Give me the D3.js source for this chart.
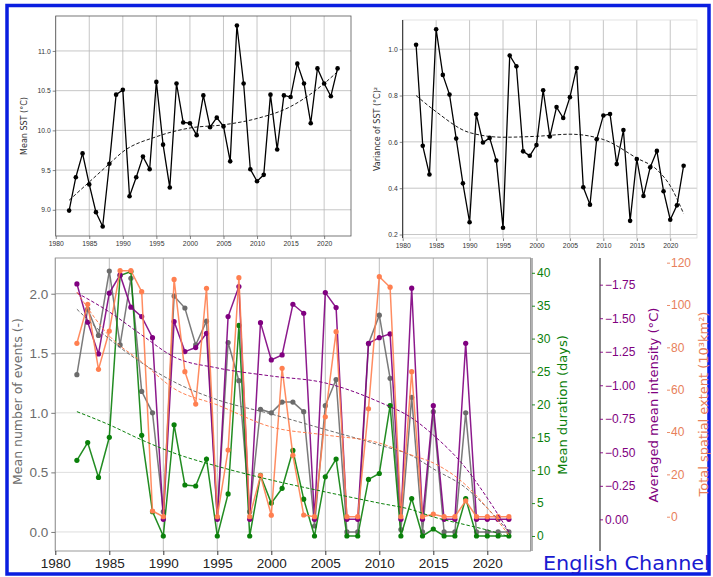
<!DOCTYPE html>
<html>
<head>
<meta charset="utf-8">
<script src="https://cdn.jsdelivr.net/npm/d3@7"></script>
<style>
  body { margin: 0; background: #fff; }
  svg { display: block; font-family: "DejaVu Sans", sans-serif; }
</style>
</head>
<body>
<main></main>
<script>
const years = d3.range(1982, 2023);

// top left: mean SST
const meanSst = [8.99, 9.41, 9.71, 9.32, 8.97, 8.79, 9.58, 10.45, 10.51, 9.17, 9.41, 9.67, 9.51, 10.61, 9.82, 9.28, 10.59, 10.10, 10.09, 9.94, 10.44, 10.04, 10.16, 10.05, 9.61, 11.32, 10.59, 9.51, 9.36, 9.44, 10.45, 9.76, 10.44, 10.42, 10.84, 10.59, 10.09, 10.78, 10.59, 10.43, 10.78];
const meanSstTrendYears = [1982, 1985, 1988, 1990, 1995, 2000, 2005, 2010, 2015, 2020, 2022];
const meanSstTrend = [9.12, 9.35, 9.58, 9.73, 9.92, 10.03, 10.07, 10.15, 10.30, 10.59, 10.74];

// top right: variance of SST
const varSst = [1.019, 0.583, 0.459, 1.086, 0.889, 0.804, 0.614, 0.421, 0.253, 0.719, 0.597, 0.617, 0.519, 0.229, 0.973, 0.926, 0.559, 0.540, 0.586, 0.823, 0.623, 0.750, 0.703, 0.793, 0.919, 0.404, 0.329, 0.611, 0.714, 0.720, 0.504, 0.651, 0.259, 0.526, 0.366, 0.490, 0.561, 0.387, 0.264, 0.326, 0.497];
const varSstTrendYears = [1982, 1985, 1990, 1995, 2000, 2005, 2010, 2015, 2018, 2020, 2022];
const varSstTrend = [0.80, 0.73, 0.64, 0.62, 0.624, 0.633, 0.61, 0.53, 0.48, 0.41, 0.29];

// bottom: event metrics
const nEvents = [1.32, 1.87, 1.65, 2.19, 1.57, 2.13, 1.18, 1.00, 0.17, 1.98, 1.88, 1.57, 1.77, 0.12, 1.59, 1.27, 0.17, 1.03, 1.00, 1.09, 1.09, 1.01, 0.05, 1.06, 1.28, 0.0, 0.0, 1.58, 1.82, 1.29, 0.02, 1.13, 0.0, 1.01, 0.0, 0.0, 1.00, 0.0, 0.0, 0.0, 0.0];
const duration = [11.5, 14.2, 8.9, 15.0, 39.6, 40.2, 15.3, 3.7, 0.0, 16.9, 7.75, 7.6, 11.7, 0.0, 6.4, 32.0, 0.0, 9.2, 5.0, 7.25, 13.0, 5.6, 0.0, 9.0, 11.7, 0.0, 0.0, 8.6, 9.5, 19.8, 0.0, 5.7, 0.0, 1.06, 0.0, 0.0, 5.7, 0.0, 0.0, 0.0, 0.0];
const intensity = [-1.756, -1.47, -1.234, -1.687, -1.823, -1.582, -1.512, -1.355, 0.0, -1.475, -1.251, -1.281, -1.388, 0.0, -1.512, -1.736, 0.0, -1.467, -1.189, -1.226, -1.604, -1.537, 0.0, -1.691, -1.579, 0.0, 0.0, -1.313, -1.355, -1.383, 0.0, -1.724, 0.0, -0.848, 0.0, 0.0, -1.313, 0.0, 0.0, 0.0, 0.0];
const extent = [81.9, 100.3, 69.6, 87.7, 116.2, 116.2, 106.3, 2.7, 0.0, 112.1, 68.5, 53.2, 107.9, 0.0, 31.5, 112.9, 0.0, 19.4, 0.7, 70.1, 29.0, 0.8, 0.0, 47.2, 87.4, 0.0, 0.0, 51.0, 113.4, 108.4, 0.0, 68.5, 0.0, 1.2, 0.0, 0.0, 7.5, 0.0, 0.0, 0.0, 0.0];

const trendYears = [1982, 1985, 1988, 1991, 1995, 2000, 2005, 2010, 2013, 2015, 2018, 2020, 2022];
const nEventsTrend = [1.87, 1.62, 1.42, 1.26, 1.11, 0.99, 0.86, 0.73, 0.64, 0.53, 0.37, 0.20, 0.0];
const durationTrend = [18.9, 16.9, 14.6, 12.6, 10.6, 8.5, 6.7, 5.0, 4.0, 2.9, 1.7, 0.9, -0.1];
const intensityTrend = [-1.689, -1.547, -1.375, -1.211, -1.129, -1.069, -1.017, -0.875, -0.756, -0.629, -0.383, -0.159, 0.094];
const extentTrend = [106.1, 85.4, 73.1, 60.5, 52.8, 42.4, 38.6, 34.8, 29.1, 25.4, 15.0, 4.1, -8.7];

const yearTicks = [1980, 1985, 1990, 1995, 2000, 2005, 2010, 2015, 2020];

const width = 713;
const height = 577;
const svg = d3.select("main").append("svg").attr("width", width).attr("height", height);

// outer frame
svg.append("rect")
  .attr("x", 7).attr("y", 5.5).attr("width", 702).attr("height", 568.5)
  .attr("fill", "none").attr("stroke", "#0a1ee0").attr("stroke-width", 3.5);

const gridColor = "#b8b8b8";

function drawSeries(g, xs, ys, xScale, yScale, color, r, lw, opacity) {
  const pts = xs.map((x, i) => [x, ys[i]]);
  g.append("path")
    .datum(pts)
    .attr("fill", "none")
    .attr("stroke", color)
    .attr("stroke-width", lw)
    .attr("stroke-opacity", opacity)
    .attr("d", d3.line().x((d) => xScale(d[0])).y((d) => yScale(d[1])));
  g.selectAll(null)
    .data(pts)
    .enter()
    .append("circle")
    .attr("cx", (d) => xScale(d[0]))
    .attr("cy", (d) => yScale(d[1]))
    .attr("r", r)
    .attr("fill", color);
}

function drawTrend(g, xs, ys, xScale, yScale, color, lw) {
  const pts = xs.map((x, i) => [x, ys[i]]);
  g.append("path")
    .datum(pts)
    .attr("fill", "none")
    .attr("stroke", color)
    .attr("stroke-width", lw)
    .attr("stroke-dasharray", "3.5,2")
    .attr("d", d3.line().curve(d3.curveMonotoneX).x((d) => xScale(d[0])).y((d) => yScale(d[1])));
}

// squeeze a text so that it is `len` px long along its own direction
function fitText(sel, x, y, rot, len) {
  const w = sel.node().getComputedTextLength();
  sel.attr("transform", `translate(${x}, ${y}) rotate(${rot}) scale(${len / w}, 1)`);
}

// ---------- top panels ----------
function topPanel(opts) {
  const { left, right, top, bottom, yDomain, yTicks, yFmt, data, trendX, trendY, label, labelX } = opts;
  const x = d3.scaleLinear().domain([1980, 2024]).range([left, right]);
  const y = d3.scaleLinear().domain(yDomain).range([bottom, top]);
  const g = svg.append("g");

  g.append("g").selectAll("line").data(yearTicks).enter().append("line")
    .attr("x1", (d) => x(d)).attr("x2", (d) => x(d)).attr("y1", top).attr("y2", bottom)
    .attr("stroke", gridColor).attr("stroke-width", 0.8);
  g.append("g").selectAll("line").data(yTicks).enter().append("line")
    .attr("x1", left).attr("x2", right).attr("y1", (d) => y(d)).attr("y2", (d) => y(d))
    .attr("stroke", gridColor).attr("stroke-width", 0.8);

  const xAxis = g.append("g").attr("transform", `translate(0, ${bottom})`)
    .call(d3.axisBottom(x).tickValues(yearTicks).tickFormat(d3.format("d")).tickSize(3).tickPadding(2));
  const yAxis = g.append("g").attr("transform", `translate(${left}, 0)`)
    .call(d3.axisLeft(y).tickValues(yTicks).tickFormat(yFmt).tickSize(3).tickPadding(2));
  [xAxis, yAxis].forEach((a) => {
    a.select(".domain").remove();
    a.selectAll("text").style("font-size", "6.8px").attr("fill", "#333");
    a.selectAll("line").attr("stroke", "#333").attr("stroke-width", 0.6);
  });

  g.append("rect").attr("x", left).attr("y", top).attr("width", right - left).attr("height", bottom - top)
    .attr("fill", "none").attr("stroke", opts.frame).attr("stroke-width", 0.8);
  if (opts.leftSpine) {
    g.append("line").attr("x1", left).attr("x2", left).attr("y1", top).attr("y2", bottom)
      .attr("stroke", "#222").attr("stroke-width", 1);
  }

  drawSeries(g, years, data, x, y, "#000", 2.3, 1.3, 1);
  drawTrend(g, trendX, trendY, x, y, "#000", 0.9);

  g.append("text")
    .attr("transform", `translate(${labelX}, ${(top + bottom) / 2}) rotate(-90)`)
    .attr("text-anchor", "middle")
    .style("font-size", "8px")
    .attr("fill", "#333")
    .text(label);
}

topPanel({
  left: 55.7, right: 351, top: 16, bottom: 236,
  yDomain: [8.67, 11.44], yTicks: [9.0, 9.5, 10.0, 10.5, 11.0], yFmt: d3.format(".1f"),
  data: meanSst, trendX: meanSstTrendYears, trendY: meanSstTrend,
  label: "Mean SST (°C)", labelX: 27, frame: "#555"
});

topPanel({
  left: 402.7, right: 697, top: 20, bottom: 238,
  yDomain: [0.185, 1.126], yTicks: [0.2, 0.4, 0.6, 0.8, 1.0], yFmt: d3.format(".1f"),
  data: varSst, trendX: varSstTrendYears, trendY: varSstTrend,
  label: "Variance of SST (°C)²", labelX: 380, frame: "#dcdcdc", leftSpine: true
});

// ---------- bottom panel ----------
const bl = 55.3, br = 530.5, bt = 258, bb = 551;
const xB = d3.scaleLinear().domain([1980, 2024]).range([bl, br]);
const yEvents = d3.scaleLinear().domain([-0.16, 2.30]).range([bb, bt]);
const yDur = d3.scaleLinear().domain([-2.28, 42.25]).range([bb, bt]);
const yInt = d3.scaleLinear().domain([0.236, -1.949]).range([bb, bt]);
const yExt = d3.scaleLinear().domain([-16.2, 122.2]).range([bb, bt]);

const cGray = "#6b6b6b", cGreen = "#0a800a", cPurple = "#800080", cOrange = "#ff7f50";
const eventTicks = [0.0, 0.5, 1.0, 1.5, 2.0];
const durTicks = [0, 5, 10, 15, 20, 25, 30, 35, 40];
const intTicks = [0, -0.25, -0.5, -0.75, -1.0, -1.25, -1.5, -1.75];
const extTicks = [0, 20, 40, 60, 80, 100, 120];

const gb = svg.append("g");
gb.append("g").selectAll("line").data(yearTicks).enter().append("line")
  .attr("x1", (d) => xB(d)).attr("x2", (d) => xB(d)).attr("y1", bt).attr("y2", bb)
  .attr("stroke", "#bdbdbd").attr("stroke-width", 1);
gb.append("g").selectAll("line").data(eventTicks).enter().append("line")
  .attr("x1", bl).attr("x2", br).attr("y1", (d) => yEvents(d)).attr("y2", (d) => yEvents(d))
  .attr("stroke", (d) => (d >= 1.5 ? "#a8a8a8" : "#dedede")).attr("stroke-width", 1);
gb.append("rect").attr("x", bl).attr("y", bt).attr("width", br - bl).attr("height", bb - bt)
  .attr("fill", "none").attr("stroke", "#999").attr("stroke-width", 1);

function styleAxis(a, color, size) {
  a.select(".domain").remove();
  a.selectAll("text").style("font-size", size).attr("fill", color);
  a.selectAll("line").attr("stroke", color).attr("stroke-width", 0.9);
}

styleAxis(gb.append("g").attr("transform", `translate(0, ${bb})`)
  .call(d3.axisBottom(xB).tickValues(yearTicks).tickFormat(d3.format("d")).tickSize(4).tickPadding(3)), "#222", "13.5px");
styleAxis(gb.append("g").attr("transform", `translate(${bl}, 0)`)
  .call(d3.axisLeft(yEvents).tickValues(eventTicks).tickFormat(d3.format(".1f")).tickSize(4).tickPadding(3)), "#6b6b6b", "13.5px");

// green axis
gb.append("line").attr("x1", 532).attr("x2", 532).attr("y1", bt).attr("y2", bb)
  .attr("stroke", "#999").attr("stroke-width", 1.5);
styleAxis(gb.append("g").attr("transform", "translate(532, 0)")
  .call(d3.axisRight(yDur).tickValues(durTicks).tickFormat(d3.format("d")).tickSize(3).tickPadding(2)), cGreen, "12px");
// purple axis
gb.append("line").attr("x1", 600).attr("x2", 600).attr("y1", bt).attr("y2", bb)
  .attr("stroke", "#111").attr("stroke-width", 1);
styleAxis(gb.append("g").attr("transform", "translate(600, 0)")
  .call(d3.axisRight(yInt).tickValues(intTicks).tickFormat(d3.format(".2f")).tickSize(3).tickPadding(2)), cPurple, "12px");
// orange axis (no spine)
styleAxis(gb.append("g").attr("transform", "translate(667, 0)")
  .call(d3.axisRight(yExt).tickValues(extTicks).tickFormat(d3.format("d")).tickSize(3).tickPadding(1)), "#e8805a", "12px");

// series
drawSeries(gb, years, nEvents, xB, yEvents, cGray, 2.6, 1.5, 0.9);
drawSeries(gb, years, duration, xB, yDur, cGreen, 2.6, 1.5, 0.9);
drawSeries(gb, years, intensity, xB, yInt, cPurple, 2.6, 1.5, 0.9);
drawSeries(gb, years, extent, xB, yExt, cOrange, 2.6, 1.5, 0.9);

drawTrend(gb, trendYears, nEventsTrend, xB, yEvents, cGray, 1);
drawTrend(gb, trendYears, durationTrend, xB, yDur, cGreen, 1);
drawTrend(gb, trendYears, intensityTrend, xB, yInt, cPurple, 1);
drawTrend(gb, trendYears, extentTrend, xB, yExt, cOrange, 1);

// axis titles
[
  { x: 18, y: 401.5, len: 167, text: "Mean number of events (-)", color: cGray },
  { x: 564, y: 405, len: 140, text: "Mean duration (days)", color: cGreen },
  { x: 655, y: 405, len: 195, text: "Averaged mean intensity (°C)", color: cPurple },
  { x: 705, y: 404, len: 185, text: "Total spatial extent (10³km²)", color: "#e8805a" }
].forEach((t) => {
  const txt = gb.append("text")
    .attr("text-anchor", "middle")
    .attr("dominant-baseline", "middle")
    .style("font-size", "12.5px")
    .attr("fill", t.color)
    .text(t.text);
  fitText(txt, t.x, t.y, -90, t.len);
});

const title = svg.append("text")
  .attr("text-anchor", "start")
  .style("font-size", "19.5px")
  .attr("fill", "#1a1ad0")
  .text("English Channel");
fitText(title, 543, 570, 0, 167);
</script>
</body>
</html>
